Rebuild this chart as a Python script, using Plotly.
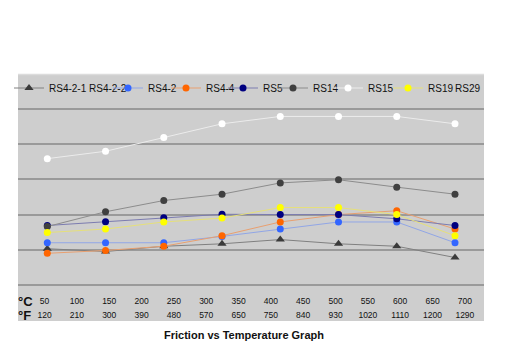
import plotly.graph_objects as go

# ---- data ----
points = [1, 2, 3, 4, 5, 6, 7, 8]
rs4_2_1 = [1.03, 0.95, 1.10, 1.17, 1.29, 1.17, 1.10, 0.78]
rs4_2 = [1.20, 1.20, 1.20, 1.38, 1.59, 1.79, 1.79, 1.20]
rs4_4 = [0.90, 0.98, 1.10, 1.40, 1.79, 2.00, 2.11, 1.59]
rs5 = [1.69, 1.80, 1.91, 2.01, 2.00, 2.00, 1.88, 1.69]
rs14 = [1.66, 2.08, 2.40, 2.58, 2.90, 2.99, 2.78, 2.58]
rs15 = [3.59, 3.80, 4.19, 4.58, 4.79, 4.79, 4.79, 4.58]
rs19 = [1.49, 1.59, 1.79, 1.90, 2.20, 2.20, 2.00, 1.40]

temp_c = [50, 100, 150, 200, 250, 300, 350, 400, 450, 500, 550, 600, 650, 700]
temp_f = [120, 210, 300, 390, 480, 570, 650, 750, 840, 930, 1020, 1110, 1200, 1290]

FONT = "Arial, Liberation Sans, sans-serif"
W, H = 505, 351
PL, PR = 18, 484            # plot area left/right px
PT, PB = 102, 292           # plot area top/bottom px
PW, PH = PR - PL, PB - PT


def px2x(p):
    return (p - PL) / PW


def px2y(p):
    return (PB - p) / PH


# name, values, marker colour, line colour, symbol, size, legend box left (px)
series = [
    ("RS4-2-1 RS4-2-2", rs4_2_1, "#3a3a3a", "#808080", "triangle-up", 8, 9),
    ("RS4-2", rs4_2, "#3366ff", "#91a6e6", "circle", 7, 108),
    ("RS4-4", rs4_4, "#ff6600", "#e9a070", "circle", 7, 166),
    ("RS5", rs5, "#000080", "#7c7cb0", "circle", 7, 223),
    ("RS14", rs14, "#404040", "#8c8c8c", "circle", 7, 273),
    ("RS15", rs15, "#ffffff", "#ececec", "circle", 7, 328),
    ("RS19", rs19, "#ffff00", "#e6e07a", "circle", 7, 388),
]

fig = go.Figure()
legends = {}
for i, (name, vals, mc, lc, sym, sz, lg_left) in enumerate(series):
    lg = "legend" if i == 0 else f"legend{i+1}"
    fig.add_trace(go.Scatter(
        x=points, y=vals, name=name, mode="lines+markers",
        line=dict(color=lc, width=1),
        marker=dict(color=mc, symbol=sym, size=sz, line=dict(width=0)),
        legend=lg,
    ))
    legends[lg] = lg_left

# RS29: legend entry only (no data drawn)
lg29 = f"legend{len(series)+1}"
fig.add_trace(go.Scatter(
    x=points, y=[None] * len(points), name="RS29", mode="lines",
    line=dict(color="rgba(0,0,0,0)", width=1), legend=lg29,
))
legends[lg29] = 415

# helper traces so label axes are drawn
fig.add_trace(go.Scatter(x=temp_c, y=[None] * len(temp_c), xaxis="x2",
                         showlegend=False, hoverinfo="skip", mode="lines"))
fig.add_trace(go.Scatter(x=temp_c, y=[None] * len(temp_c), xaxis="x3",
                         showlegend=False, hoverinfo="skip", mode="lines"))

legend_y = px2y(88)
layout_legends = {}
for lg, lg_left in legends.items():
    layout_legends[lg] = dict(
        x=px2x(lg_left), xanchor="left", y=legend_y, yanchor="middle",
        orientation="v", bgcolor="rgba(0,0,0,0)", borderwidth=0,
        itemwidth=30, font=dict(family=FONT, size=10, color="#111111"),
    )

label_range = [8.9, 729.6]
fig.update_layout(
    width=W, height=H,
    margin=dict(l=PL, r=W - PR, t=PT, b=H - PB, pad=0, autoexpand=False),
    paper_bgcolor="white", plot_bgcolor="#cecece",
    showlegend=True,
    xaxis=dict(range=[0.497, 8.498], showgrid=False, zeroline=False,
               showticklabels=False, showline=False, ticks=""),
    yaxis=dict(range=[-0.2, 5.2], tickvals=[0, 1, 2, 3, 4, 5], showgrid=True,
               gridcolor="#9a9a9a", gridwidth=1.5, zeroline=False,
               showticklabels=False, showline=False, ticks=""),
    xaxis2=dict(overlaying="x", anchor="y", side="bottom", range=label_range,
                tickvals=temp_c, ticktext=[str(v) for v in temp_c],
                showgrid=False, zeroline=False, showline=False, ticks="",
                tickfont=dict(family=FONT, size=8.5, color="#111111"),
                ticklabelstandoff=2),
    xaxis3=dict(overlaying="x", anchor="y", side="bottom", range=label_range,
                tickvals=temp_c, ticktext=[str(v) for v in temp_f],
                showgrid=False, zeroline=False, showline=False, ticks="",
                tickfont=dict(family=FONT, size=8.5, color="#111111"),
                ticklabelstandoff=16),
    title=dict(text="<b>Friction vs Temperature Graph</b>", x=244 / W, xref="container",
               xanchor="center", y=1 - 335 / H, yref="container", yanchor="middle",
               font=dict(family=FONT, size=11, color="#111111")),
    shapes=[
        dict(type="rect", xref="paper", yref="paper", layer="below",
             x0=0, x1=1, y0=px2y(321), y1=px2y(74),
             fillcolor="#cecece", line=dict(width=0)),
        dict(type="line", xref="paper", yref="paper", layer="below",
             x0=0, x1=1, y0=px2y(74.5), y1=px2y(74.5),
             line=dict(color="#dcdcdc", width=1.5)),
    ],
    annotations=[
        dict(text="<b>°C</b>", xref="paper", yref="paper", x=px2x(16), y=px2y(301.5),
             xanchor="left", yanchor="middle", showarrow=False,
             font=dict(family=FONT, size=13, color="#111111")),
        dict(text="<b>°F</b>", xref="paper", yref="paper", x=px2x(16), y=px2y(315.5),
             xanchor="left", yanchor="middle", showarrow=False,
             font=dict(family=FONT, size=13, color="#111111")),
    ],
    **layout_legends,
)

fig.write_html("out.html")
